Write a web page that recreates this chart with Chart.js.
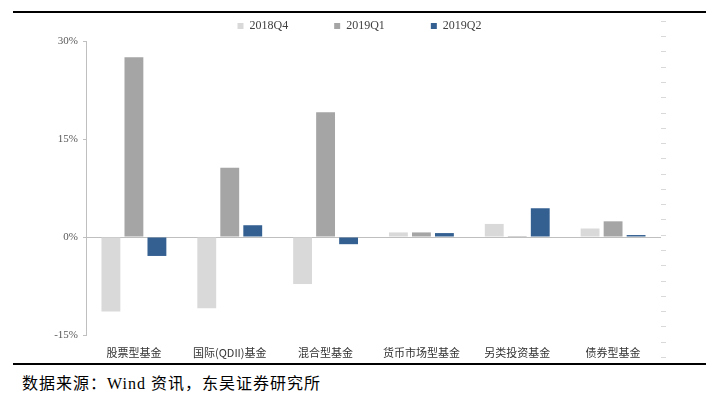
<!DOCTYPE html>
<html>
<head>
<meta charset="utf-8">
<script src="https://cdn.jsdelivr.net/npm/chart.js@4"></script>
<style>
  body { margin: 0; background: #fff; width: 717px; height: 396px; position: relative; overflow: hidden; }
  #topLine { position: absolute; left: 13px; top: 11px; width: 693px; height: 2px; background: #000; }
  #bottomLine { position: absolute; left: 13px; top: 363px; width: 693px; height: 2px; background: #000; }
  #box { position: absolute; left: 13px; top: 14px; width: 693px; height: 348px; }
  #source { position: absolute; left: 22px; top: 370px; font-family: "Liberation Serif", "Noto Sans CJK SC", serif; font-size: 16px; letter-spacing: 1px; color: #000; white-space: nowrap; }
</style>
</head>
<body>
<div id="topLine"></div>
<div id="box"><canvas id="fundChart"></canvas></div>
<div id="bottomLine"></div>
<div id="source">数据来源：Wind 资讯，东吴证券研究所</div>
<script>
// data (% change by fund type)
var categories = ["股票型基金", "国际(QDII)基金", "混合型基金", "货币市场型基金", "另类投资基金", "债券型基金"];
var seriesNames = ["2018Q4", "2019Q1", "2019Q2"];
var q4_2018 = [-11.4, -10.9, -7.2, 0.7, 2.0, 1.3];
var q1_2019 = [27.5, 10.6, 19.1, 0.7, 0.15, 2.4];
var q2_2019 = [-2.9, 1.8, -1.1, 0.6, 4.4, 0.3];
var yTicks = [-15, 0, 15, 30];

var ctx = document.getElementById('fundChart').getContext('2d');
var chart = new Chart(ctx, {
    type: 'bar',
    data: {
        labels: categories,
        datasets: [
            { label: seriesNames[0], data: q4_2018, backgroundColor: '#d9d9d9' },
            { label: seriesNames[1], data: q1_2019, backgroundColor: '#a5a5a5' },
            { label: seriesNames[2], data: q2_2019, backgroundColor: '#335f91' }
        ]
    },
    options: {
        responsive: true,
        maintainAspectRatio: false,
        animation: false,
        categoryPercentage: 0.72,
        barPercentage: 0.82,
        // negative top padding lets the wide-spaced legend sit close to the top rule
        layout: { padding: { top: -40, left: 0, right: 0, bottom: 0 } },
        plugins: {
            tooltip: { enabled: false },
            legend: {
                display: true,
                position: 'top',
                align: 'center',
                maxHeight: 67,
                labels: {
                    boxWidth: 6,
                    boxHeight: 6,
                    padding: 46,
                    color: '#404040',
                    font: { family: 'Liberation Serif', size: 12 }
                }
            }
        },
        scales: {
            x: {
                grid: { display: false },
                border: { display: false },
                ticks: {
                    color: '#333',
                    padding: 3,
                    maxRotation: 0,
                    font: { family: 'Noto Sans CJK SC', size: 11 }
                },
                afterFit: function(scale) { scale.height = 27; }
            },
            y: {
                position: 'left',
                min: -15,
                max: 30,
                afterBuildTicks: function(scale) {
                    scale.ticks = yTicks.map(function(v) { return { value: v }; });
                },
                grid: {
                    color: function(c) { return c.tick && c.tick.value === 0 ? '#bfbfbf' : 'rgba(0,0,0,0)'; },
                    tickColor: '#bfbfbf',
                    tickLength: 3
                },
                border: { display: true, color: '#bfbfbf' },
                ticks: {
                    color: '#595959',
                    padding: 5,
                    font: { family: 'Liberation Serif', size: 11 },
                    callback: function(v) { return v + '%'; }
                },
                afterFit: function(scale) { scale.width = 73; }
            },
            y2: {
                // unlabeled secondary axis: only short tick marks on the right
                position: 'right',
                min: -18.53,
                max: 0.72,
                afterBuildTicks: function(scale) {
                    var t = [];
                    for (var v = 2; v >= -20; v--) t.push({ value: v });
                    scale.ticks = t;
                },
                grid: { drawOnChartArea: false, color: '#d9d9d9', tickLength: 5 },
                border: { display: false },
                ticks: { display: false },
                afterFit: function(scale) { scale.width = 45; }
            }
        }
    }
});
</script>
</body>
</html>
